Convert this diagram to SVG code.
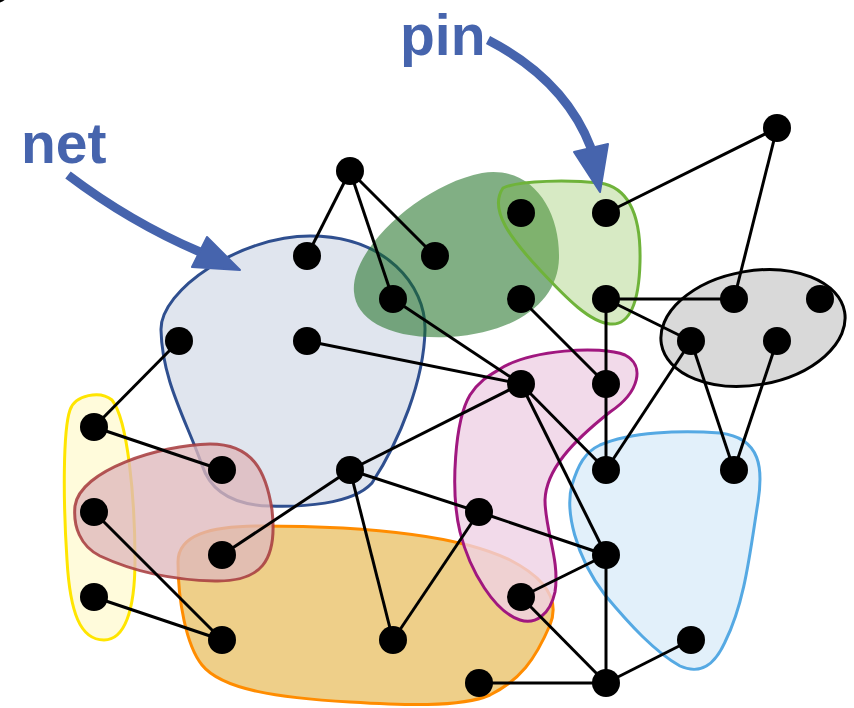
<svg xmlns="http://www.w3.org/2000/svg" width="854" height="708" viewBox="0 0 854 708">
  <style>
    .edge { stroke: #000; stroke-width: 3; fill: none; }
    .node { fill: #000; }
    .blob { stroke-width: 3; }
    .label { font-family: "Liberation Sans", Arial, sans-serif; font-weight: bold; font-size: 57px; fill: #4664ad; }
    .pointer { stroke: #4664ad; stroke-width: 9; fill: none; }
    .pointer-head { fill: #4664ad; stroke: #4664ad; stroke-width: 2; stroke-linejoin: round; }
  </style>
  <rect width="854" height="708" fill="#fff"/>
  <circle cx="-4" cy="-11" r="14" fill="#000"/>

  <!-- hyperedges (nets) -->
  <g id="net-blue">
    <path class="blob" d="M 161,330 C 160,290 240,236 310,236 C 385,236 426,285 425,330 C 424,380 400,440 372,483 C 352,505 300,507 270,506 C 232,505 210,490 202,465 C 186,420 162,380 161,330 Z" fill="#2f4f8f" fill-opacity="0.15" stroke="#2f4f8f"/>
  </g>
  <g id="net-darkgreen">
    <path d="M 354,292 C 350,250 420,185 482,173 C 532,165 560,210 559,258 C 558,300 520,332 450,337 C 390,340 356,320 354,292 Z" fill="#1a6e1f" fill-opacity="0.55"/>
  </g>
  <g id="net-lightgreen">
    <path class="blob" d="M 503,188 C 520,180 570,180 600,183 C 632,188 641,222 640,262 C 639,302 630,326 610,324 C 590,322 568,300 540,270 C 512,240 488,210 503,188 Z" fill="#7cbb3a" fill-opacity="0.3" stroke="#6fb33a"/>
  </g>
  <g id="net-gray">
    <ellipse class="blob" cx="753" cy="328" rx="93" ry="57" transform="rotate(-10 753 328)" fill="#d9d9d9" stroke="#000"/>
  </g>
  <g id="net-yellow">
    <path class="blob" d="M 70,410 C 75,395 100,390 112,400 C 128,420 135,500 135,560 C 135,612 124,640 104,640 C 80,640 70,612 67,560 C 63,500 63,430 70,410 Z" fill="#ffe500" fill-opacity="0.14" stroke="#ffe500"/>
  </g>
  <g id="net-orange">
    <path class="blob" d="M 178,562 C 178,535 210,526 260,526 C 340,526 450,531 510,560 C 545,578 560,600 550,625 C 535,660 520,680 490,695 C 460,708 400,705 350,702 C 280,698 222,690 202,665 C 186,645 178,600 178,562 Z" fill="#e0a828" fill-opacity="0.55" stroke="#ff8c00"/>
  </g>
  <g id="net-red">
    <path class="blob" d="M 75,506 C 80,470 160,445 210,444 C 252,444 266,470 272,510 C 278,562 260,582 215,581 C 170,580 130,570 100,556 C 80,546 73,526 75,506 Z" fill="#dfb9bc" fill-opacity="0.78" stroke="#a63a3c" stroke-opacity="0.85"/>
  </g>
  <g id="net-pink">
    <path class="blob" d="M 500,369 C 530,350 600,345 625,355 C 645,365 640,392 610,412 C 572,442 546,470 545,500 C 545,530 560,560 555,592 C 550,615 535,625 520,620 C 495,612 470,572 460,532 C 450,490 455,420 470,395 C 480,380 490,375 500,369 Z" fill="#efd1e5" fill-opacity="0.8" stroke="#a0177f"/>
  </g>
  <g id="net-lightblue">
    <path class="blob" d="M 600,445 C 630,432 680,430 720,433 C 762,438 763,470 758,502 C 750,552 745,602 725,642 C 714,666 700,675 680,666 C 655,652 630,625 605,595 C 575,556 565,510 572,485 C 578,465 585,452 600,445 Z" fill="#55a9e3" fill-opacity="0.17" stroke="#55a9e3"/>
  </g>

  <!-- connectors -->
  <g id="edges" class="edge">
    <line x1="350" y1="171" x2="307" y2="256"/>
    <line x1="350" y1="171" x2="393" y2="299"/>
    <line x1="350" y1="171" x2="435" y2="256"/>
    <line x1="393" y1="299" x2="521" y2="384"/>
    <line x1="307" y1="341" x2="521" y2="384"/>
    <line x1="179" y1="341" x2="94" y2="427"/>
    <line x1="94" y1="427" x2="222" y2="470"/>
    <line x1="94" y1="512" x2="222" y2="640"/>
    <line x1="94" y1="597" x2="222" y2="640"/>
    <line x1="222" y1="555" x2="350" y2="470"/>
    <line x1="350" y1="470" x2="521" y2="384"/>
    <line x1="350" y1="470" x2="393" y2="640"/>
    <line x1="350" y1="470" x2="479" y2="512"/>
    <line x1="479" y1="512" x2="606" y2="555"/>
    <line x1="479" y1="512" x2="393" y2="640"/>
    <line x1="521" y1="384" x2="606" y2="470"/>
    <line x1="521" y1="384" x2="606" y2="555"/>
    <line x1="521" y1="299" x2="606" y2="384"/>
    <line x1="606" y1="299" x2="606" y2="470"/>
    <line x1="606" y1="555" x2="606" y2="683"/>
    <line x1="606" y1="470" x2="691" y2="341"/>
    <line x1="606" y1="299" x2="734" y2="299"/>
    <line x1="606" y1="299" x2="691" y2="341"/>
    <line x1="606" y1="213" x2="777" y2="128"/>
    <line x1="777" y1="128" x2="734" y2="299"/>
    <line x1="691" y1="341" x2="734" y2="470"/>
    <line x1="777" y1="341" x2="734" y2="470"/>
    <line x1="606" y1="555" x2="521" y2="597"/>
    <line x1="521" y1="597" x2="606" y2="683"/>
    <line x1="479" y1="683" x2="606" y2="683"/>
    <line x1="606" y1="683" x2="691" y2="640"/>
  </g>

  <!-- vertices -->
  <g id="nodes">
    <circle id="n1" class="node" cx="350" cy="171" r="14"/>
    <circle id="n2" class="node" cx="307" cy="256" r="14"/>
    <circle id="n3" class="node" cx="435" cy="256" r="14"/>
    <circle id="n4" class="node" cx="393" cy="299" r="14"/>
    <circle id="n5" class="node" cx="179" cy="341" r="14"/>
    <circle id="n6" class="node" cx="307" cy="341" r="14"/>
    <circle id="n7" class="node" cx="521" cy="213" r="14"/>
    <circle id="n8" class="node" cx="606" cy="213" r="14"/>
    <circle id="n9" class="node" cx="521" cy="299" r="14"/>
    <circle id="n10" class="node" cx="606" cy="299" r="14"/>
    <circle id="n11" class="node" cx="777" cy="128" r="14"/>
    <circle id="n12" class="node" cx="734" cy="299" r="14"/>
    <circle id="n13" class="node" cx="820" cy="299" r="14"/>
    <circle id="n14" class="node" cx="691" cy="341" r="14"/>
    <circle id="n15" class="node" cx="777" cy="341" r="14"/>
    <circle id="n16" class="node" cx="94" cy="427" r="14"/>
    <circle id="n17" class="node" cx="222" cy="470" r="14"/>
    <circle id="n18" class="node" cx="94" cy="512" r="14"/>
    <circle id="n19" class="node" cx="222" cy="555" r="14"/>
    <circle id="n20" class="node" cx="94" cy="597" r="14"/>
    <circle id="n21" class="node" cx="222" cy="640" r="14"/>
    <circle id="n22" class="node" cx="350" cy="470" r="14"/>
    <circle id="n23" class="node" cx="393" cy="640" r="14"/>
    <circle id="n24" class="node" cx="521" cy="384" r="14"/>
    <circle id="n25" class="node" cx="606" cy="384" r="14"/>
    <circle id="n26" class="node" cx="606" cy="470" r="14"/>
    <circle id="n27" class="node" cx="734" cy="470" r="14"/>
    <circle id="n28" class="node" cx="479" cy="512" r="14"/>
    <circle id="n29" class="node" cx="606" cy="555" r="14"/>
    <circle id="n30" class="node" cx="521" cy="597" r="14"/>
    <circle id="n31" class="node" cx="691" cy="640" r="14"/>
    <circle id="n32" class="node" cx="479" cy="683" r="14"/>
    <circle id="n33" class="node" cx="606" cy="683" r="14"/>
  </g>

  <!-- annotations -->
  <g id="label-net">
    <text class="label" x="21" y="163">net</text>
    <path class="pointer" d="M 68,175 Q 130,222 200,252"/>
    <polygon class="pointer-head" points="207,237 192,267 240,270"/>
  </g>
  <g id="label-pin">
    <text class="label" x="400" y="55">pin</text>
    <path class="pointer" d="M 488,40 Q 565,80 591,148"/>
    <polygon class="pointer-head" points="574,152 608,144 600,192"/>
  </g>
</svg>
